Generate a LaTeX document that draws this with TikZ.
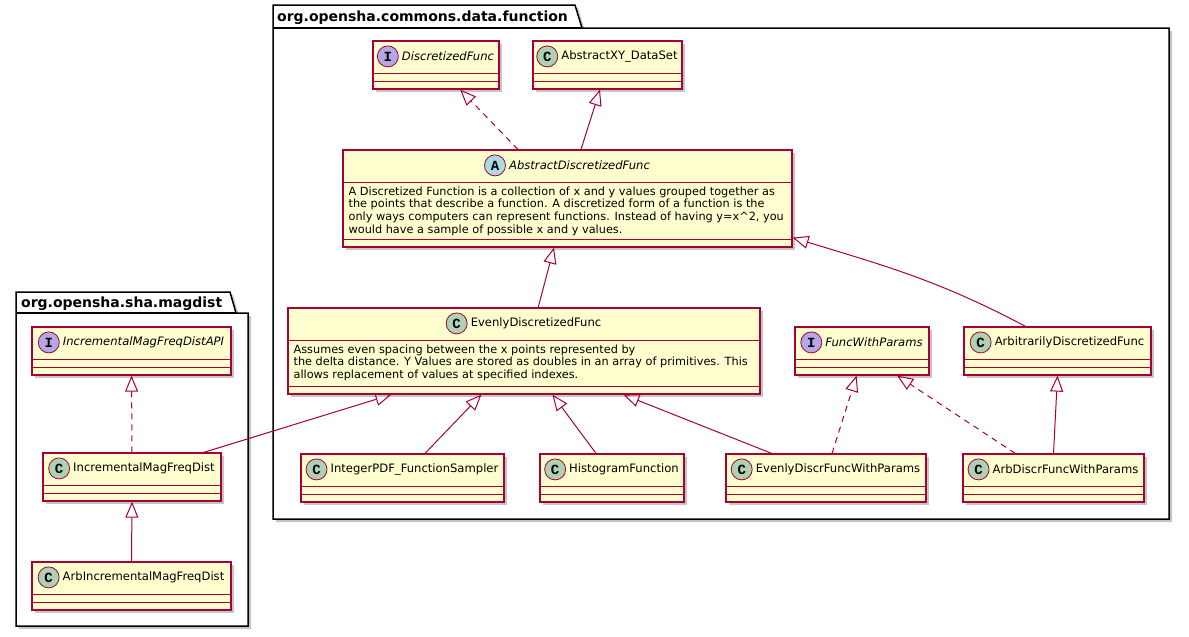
\documentclass[tikz,border=0pt]{standalone}
\usepackage{fontspec}
\setmainfont{DejaVu Sans}
\newfontfamily\markfont{Liberation Mono}
\usepackage{tikz}
\usetikzlibrary{shapes,arrows.meta,calc,positioning,shadows}

\definecolor{umlred}{HTML}{A80036}
\definecolor{umlfill}{HTML}{FEFECE}
\definecolor{classgreen}{HTML}{ADD1B2}
\definecolor{ifacepurple}{HTML}{B4A7E5}
\definecolor{abstractblue}{HTML}{A9DCDF}

\begin{document}
\begin{tikzpicture}[x=1pt, y=-1pt, every node/.style={inner sep=0pt}]
			\tikzset{
				classbox/.style={
					draw=umlred, fill=umlfill, line width=1.2pt, minimum height=48,
					drop shadow={shadow xshift=3pt, shadow yshift=-3pt, fill=black!45, opacity=0.5},
					path picture={
						\draw[umlred, line width=1pt]
							([yshift=-32pt]path picture bounding box.north west) -- ([yshift=-32pt]path picture bounding box.north east)
							([yshift=8pt]path picture bounding box.south west) -- ([yshift=8pt]path picture bounding box.south east);
					}
				}
			}
			\tikzset{ classname/.style = { font=\fontsize{11.6pt}{13.5pt}\selectfont } }
			\tikzset{ notetext/.style = { font=\fontsize{11.3pt}{12.8pt}\selectfont, align=left, anchor=north west } }
			\tikzset{ mark/.style = { circle, draw=umlred, line width=0.8pt, fill=#1, minimum size=21pt,
					font=\markfont\bfseries\fontsize{14pt}{14pt}\selectfont } }
			\tikzset{ package/.style = { draw=black, line width=1.5pt, fill=white,
					drop shadow={shadow xshift=3pt, shadow yshift=-3pt, fill=black!45, opacity=0.5} } }
			\tikzset{ pkgtitle/.style = { font=\bfseries\fontsize{14pt}{16pt}\selectfont, anchor=base west } }
			\tikzset{ extends/.style = { draw=umlred, line width=1pt, -{Triangle[open, length=16pt, width=13pt, line width=1pt]} } }
			\tikzset{ implements/.style = { extends, dash pattern=on 6pt off 5pt } }

			\useasboundingbox (0,0) rectangle (1189,637);

			% packages
			\draw[package] (273,28) -- (273,5) -- (575,5) -- (582,28) -- (1169,28) -- (1169,519) -- (273,519) -- cycle;
			\draw[line width=1.5pt] (273,28) -- (582,28);
			\node[pkgtitle] (funcpkg) at (277,21) {org.opensha.commons.data.function};

			\draw[package] (16,313) -- (16,292) -- (230,292) -- (236,313) -- (248,313) -- (248,626) -- (16,626) -- cycle;
			\draw[line width=1.5pt] (16,313) -- (236,313);
			\node[pkgtitle] (magpkg) at (21,307) {org.opensha.sha.magdist};

			% classes of org.opensha.commons.data.function
			\node[classbox, minimum width=126] (dfunc) at (436,65) {};
			\node[classname] (dfuncname) at ([xshift=12pt, yshift=-16pt]dfunc.north) {\itshape DiscretizedFunc};
			\node[mark=ifacepurple, left=3pt of dfuncname] (dfuncmark) {I};

			\node[classbox, minimum width=149] (xyset) at (607.5,65) {};
			\node[classname] (xysetname) at ([xshift=12pt, yshift=-16pt]xyset.north) {AbstractXY\_DataSet};
			\node[mark=classgreen, left=3pt of xysetname] (xysetmark) {C};

			\node[classbox, minimum width=449, minimum height=97] (afunc) at (567.5,198.5) {};
			\node[classname] (afuncname) at ([xshift=12pt, yshift=-16pt]afunc.north) {\itshape AbstractDiscretizedFunc};
			\node[mark=abstractblue, left=3pt of afuncname] (afuncmark) {A};
			\node[notetext] (afuncnote) at ([xshift=6pt, yshift=-37pt]afunc.north west) {A Discretized Function is a collection of x and y values grouped together as\\
				the points that describe a function. A discretized form of a function is the\\
				only ways computers can represent functions. Instead of having y=x\^{}2, you\\
				would have a sample of possible x and y values.};

			\node[classbox, minimum width=472, minimum height=86] (evfunc) at (524,351) {};
			\node[classname] (evfuncname) at ([xshift=12pt, yshift=-16pt]evfunc.north) {EvenlyDiscretizedFunc};
			\node[mark=classgreen, left=3pt of evfuncname] (evfuncmark) {C};
			\node[notetext] (evfuncnote) at ([xshift=6pt, yshift=-37pt]evfunc.north west) {Assumes even spacing between the x points represented by\\
				the delta distance. Y Values are stored as doubles in an array of primitives. This\\
				allows replacement of values at specified indexes.};

			\node[classbox, minimum width=134] (fparams) at (862,351) {};
			\node[classname] (fparamsname) at ([xshift=12pt, yshift=-16pt]fparams.north) {\itshape FuncWithParams};
			\node[mark=ifacepurple, left=3pt of fparamsname] (fparamsmark) {I};

			\node[classbox, minimum width=187] (arbfunc) at (1057.5,351) {};
			\node[classname] (arbfuncname) at ([xshift=12pt, yshift=-16pt]arbfunc.north) {ArbitrarilyDiscretizedFunc};
			\node[mark=classgreen, left=3pt of arbfuncname] (arbfuncmark) {C};

			\node[classbox, minimum width=203] (pdfsam) at (402.5,478) {};
			\node[classname] (pdfsamname) at ([xshift=12pt, yshift=-16pt]pdfsam.north) {IntegerPDF\_FunctionSampler};
			\node[mark=classgreen, left=3pt of pdfsamname] (pdfsammark) {C};

			\node[classbox, minimum width=144] (histfunc) at (612,478) {};
			\node[classname] (histfuncname) at ([xshift=12pt, yshift=-16pt]histfunc.north) {HistogramFunction};
			\node[mark=classgreen, left=3pt of histfuncname] (histfuncmark) {C};

			\node[classbox, minimum width=200] (evparams) at (826,478) {};
			\node[classname] (evparamsname) at ([xshift=12pt, yshift=-16pt]evparams.north) {EvenlyDiscrFuncWithParams};
			\node[mark=classgreen, left=3pt of evparamsname] (evparamsmark) {C};

			\node[classbox, minimum width=181] (arbparams) at (1053.5,478) {};
			\node[classname] (arbparamsname) at ([xshift=12pt, yshift=-16pt]arbparams.north) {ArbDiscrFuncWithParams};
			\node[mark=classgreen, left=3pt of arbparamsname] (arbparamsmark) {C};

			% classes of org.opensha.sha.magdist
			\node[classbox, minimum width=199] (imfdapi) at (131.5,351) {};
			\node[classname] (imfdapiname) at ([xshift=12pt, yshift=-16pt]imfdapi.north) {\itshape IncrementalMagFreqDistAPI};
			\node[mark=ifacepurple, left=3pt of imfdapiname] (imfdapimark) {I};

			\node[classbox, minimum width=178] (imfd) at (132,477) {};
			\node[classname] (imfdname) at ([xshift=12pt, yshift=-16pt]imfd.north) {IncrementalMagFreqDist};
			\node[mark=classgreen, left=3pt of imfdname] (imfdmark) {C};

			\node[classbox, minimum width=199] (arbimfd) at (131.5,586) {};
			\node[classname] (arbimfdname) at ([xshift=12pt, yshift=-16pt]arbimfd.north) {ArbIncrementalMagFreqDist};
			\node[mark=classgreen, left=3pt of arbimfdname] (arbimfdmark) {C};

			% inheritance
			\draw[implements] ($(afunc.north west)!0.39!(afunc.north east)$) -- ($(dfunc.south west)!0.69!(dfunc.south east)$);
			\draw[extends] ($(afunc.north west)!0.53!(afunc.north east)$) -- ($(xyset.south west)!0.45!(xyset.south east)$);
			\draw[extends] ($(evfunc.north west)!0.53!(evfunc.north east)$) -- ($(afunc.south west)!0.47!(afunc.south east)$);
			\draw[extends] ($(arbfunc.north west)!0.33!(arbfunc.north east)$) to[out=152, in=-17] ([yshift=10pt]afunc.south east);
			\draw[extends] ($(imfd.north west)!0.90!(imfd.north east)$) -- ($(evfunc.south west)!0.22!(evfunc.south east)$);
			\draw[extends] ($(pdfsam.north west)!0.61!(pdfsam.north east)$) -- ($(evfunc.south west)!0.41!(evfunc.south east)$);
			\draw[extends] ($(histfunc.north west)!0.39!(histfunc.north east)$) -- ($(evfunc.south west)!0.56!(evfunc.south east)$);
			\draw[extends] ($(evparams.north west)!0.23!(evparams.north east)$) -- ($(evfunc.south west)!0.71!(evfunc.south east)$);
			\draw[implements] ($(evparams.north west)!0.53!(evparams.north east)$) -- ($(fparams.south west)!0.46!(fparams.south east)$);
			\draw[implements] ($(arbparams.north west)!0.29!(arbparams.north east)$) -- ($(fparams.south west)!0.76!(fparams.south east)$);
			\draw[extends] (arbparams.north) -- (arbfunc.south);
			\draw[implements] (imfd.north) -- (imfdapi.south);
			\draw[extends] (arbimfd.north) -- (imfd.south);
		\end{tikzpicture}
\end{document}
